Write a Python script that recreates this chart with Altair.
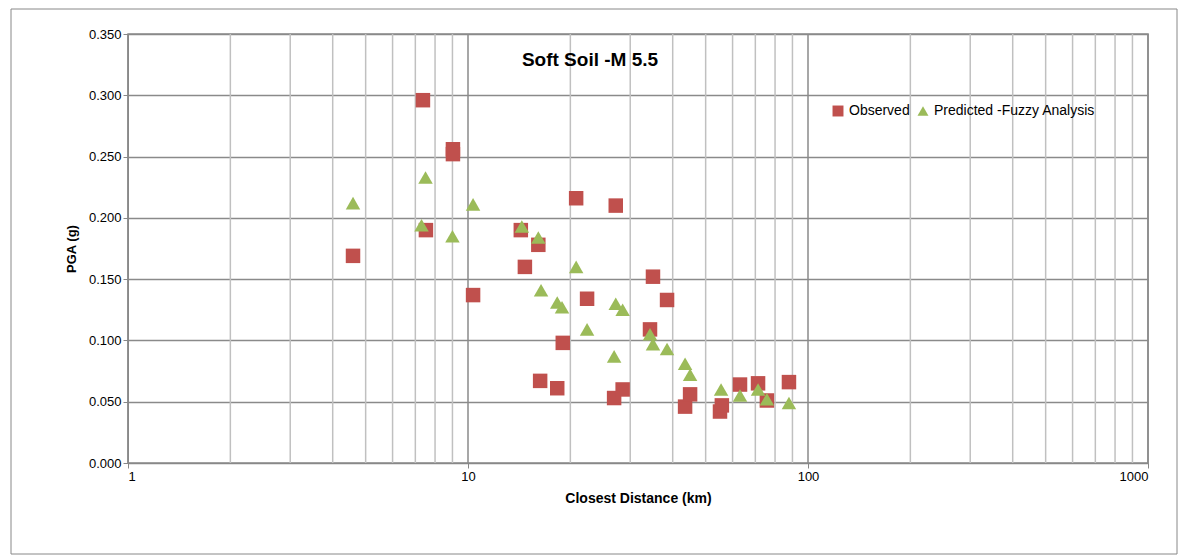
import altair as alt
import pandas as pd

obs_d = [4.59, 7.37, 7.52, 9.03, 9.03, 10.35, 14.3, 14.7, 16.1, 16.3, 18.3, 19.0, 20.8, 22.4, 26.9, 27.2, 28.5, 34.3, 35.0, 38.5, 43.5, 45.0, 55.1, 55.8, 63.1, 71.3, 75.7, 87.9]
obs_pga = [0.169, 0.296, 0.190, 0.256, 0.252, 0.137, 0.190, 0.160, 0.178, 0.067, 0.061, 0.098, 0.216, 0.134, 0.053, 0.210, 0.060, 0.109, 0.152, 0.133, 0.046, 0.056, 0.042, 0.047, 0.064, 0.065, 0.051, 0.066]
pred_d = [4.59, 7.3, 7.5, 9.0, 10.35, 14.4, 16.1, 16.4, 18.3, 18.9, 20.8, 22.4, 26.9, 27.2, 28.5, 34.3, 35.0, 38.5, 43.5, 45.0, 55.5, 63.1, 71.3, 75.7, 87.9]
pred_pga = [0.212, 0.194, 0.233, 0.185, 0.211, 0.193, 0.184, 0.141, 0.131, 0.127, 0.160, 0.109, 0.087, 0.130, 0.125, 0.105, 0.097, 0.093, 0.081, 0.072, 0.060, 0.055, 0.060, 0.052, 0.049]
series = ["Observed", "Predicted -Fuzzy Analysis"]
decades = [1, 10, 100, 1000]
minor = [m * d for d in [1, 10, 100] for m in range(2, 10)]
yticks = [0.0, 0.05, 0.1, 0.15, 0.2, 0.25, 0.3, 0.35]

df = pd.DataFrame({
    "d": obs_d + pred_d,
    "pga": obs_pga + pred_pga,
    "s": [series[0]] * len(obs_d) + [series[1]] * len(pred_d),
})

F = "Liberation Sans"
xs = alt.Scale(type="log", domain=[1, 1000])
ys = alt.Scale(domain=[0, 0.35])

minor_rules = alt.Chart(pd.DataFrame({"v": minor})).mark_rule(color="#c0c0c0", strokeWidth=1.5).encode(
    x=alt.X("v:Q", scale=xs))
major_rules = alt.Chart(pd.DataFrame({"v": decades})).mark_rule(color="#8a8a8a", strokeWidth=1.5).encode(
    x=alt.X("v:Q", scale=xs))

pts = alt.Chart(df).mark_point(filled=True, opacity=1, size=210).encode(
    x=alt.X("d:Q", scale=xs, title="Closest Distance (km)",
            axis=alt.Axis(values=decades, format="d", grid=False, tickSize=5,
                          labelFontSize=13, titleFontSize=14, titleFontWeight="bold",
                          labelFont=F, titleFont=F, labelColor="#000", titleColor="#000",
                          domainColor="#888", tickColor="#888", titlePadding=8)),
    y=alt.Y("pga:Q", scale=ys, title="PGA (g)",
            axis=alt.Axis(values=yticks, format=".3f", grid=True,
                          gridColor="#8a8a8a", gridWidth=1.5, tickSize=5,
                          labelFontSize=13, titleFontSize=13, titleFontWeight="bold",
                          labelFont=F, titleFont=F, labelColor="#000", titleColor="#000",
                          domainColor="#888", tickColor="#888", titlePadding=10)),
    color=alt.Color("s:N", scale=alt.Scale(domain=series, range=["#C0504D", "#9BBB59"]),
                    legend=alt.Legend(title=None, orient="none", legendX=703, legendY=70,
                                      direction="horizontal", labelFontSize=14, labelFont=F,
                                      labelLimit=400, symbolSize=120, columnPadding=6,
                                      labelColor="#000")),
    shape=alt.Shape("s:N", scale=alt.Scale(domain=series, range=["square", "triangle-up"]), legend=None),
)

title = alt.Chart(pd.DataFrame({"t": ["Soft Soil -M 5.5"]})).mark_text(
    font=F, fontSize=19, fontWeight="bold", color="#000").encode(
    text="t:N", x=alt.value(462), y=alt.value(26))

border = alt.Chart(pd.DataFrame({"a": [0]})).mark_rect(fill=None, stroke="#888", strokeWidth=1).encode(
    x=alt.value(-117), x2=alt.value(1049), y=alt.value(-25), y2=alt.value(520))

chart = alt.layer(minor_rules, major_rules, pts, title, border).properties(
    width=1020, height=429, autosize="none",
    padding={"left": 120, "top": 26, "right": 32, "bottom": 96},
).configure_view(stroke="#8a8a8a", strokeWidth=1.5)

chart.save("out.html", embed_options={"renderer": "svg", "actions": False})
